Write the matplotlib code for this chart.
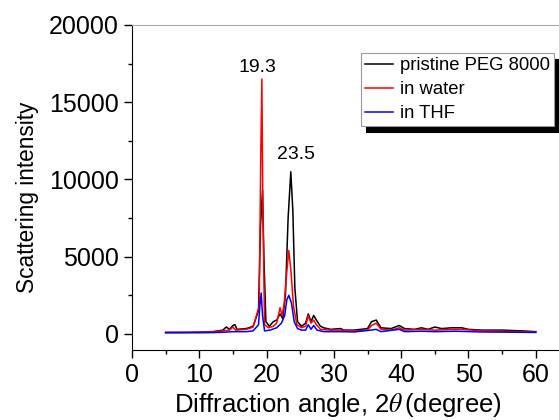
import matplotlib
matplotlib.use("Agg")
import matplotlib.pyplot as plt
from matplotlib.ticker import MultipleLocator

plt.rcParams['font.family'] = ['Liberation Sans', 'DejaVu Sans']
plt.rcParams['mathtext.fontset'] = 'stix'

# pristine PEG 8000 (black)
x_peg = [5, 8, 10, 12, 13.5, 14, 14.5, 15, 15.3, 15.6, 17, 18, 18.8, 19.1, 19.4, 19.6, 19.9, 20.4,
         21, 21.5, 22, 22.4, 22.8, 23.2, 23.6, 23.9, 24.2, 24.6, 25.2, 25.8, 26.2, 26.6, 27.0, 27.4,
         28.0, 28.5, 29.5, 31, 31.5, 33, 35, 35.6, 36.3, 37, 38.5, 39.7, 40.5, 42, 43, 44, 45, 46,
         47.5, 49, 50, 52, 55, 58, 60]
y_peg = [100, 100, 120, 150, 250, 450, 300, 550, 600, 300, 350, 500, 1500, 7000, 9300, 5000, 800, 500,
         800, 900, 1300, 1000, 2500, 7500, 10500, 8000, 3000, 800, 500, 700, 1300, 800, 1200, 900,
         500, 400, 300, 350, 250, 250, 350, 800, 900, 400, 350, 550, 350, 300, 400, 300, 450, 350,
         400, 400, 300, 250, 250, 200, 150]

# in water (red)
x_water = [5, 8, 10, 12, 13.5, 14.5, 15, 15.4, 17, 18, 18.9, 19.15, 19.3, 19.45, 19.7, 20.3,
           21, 21.5, 22.0, 22.3, 22.6, 23.0, 23.3, 23.6, 24.0, 24.5, 25.2, 25.8, 26.2, 26.6, 27.0, 27.4,
           28.0, 29.5, 31, 33, 35, 35.6, 36.3, 37, 38.5, 39.7, 40.5, 43, 45, 47.5, 49, 52, 55, 60]
y_water = [100, 100, 110, 140, 200, 250, 450, 250, 300, 450, 1800, 12000, 16500, 8000, 600, 400,
           500, 700, 1700, 1200, 1900, 4000, 5400, 4200, 1800, 600, 400, 500, 1200, 700, 900, 600,
           300, 250, 250, 200, 250, 550, 700, 300, 250, 400, 250, 300, 250, 300, 300, 200, 180, 120]

# in THF (blue)
x_thf = [5, 8, 10, 12, 14, 15, 17, 18, 18.8, 19.0, 19.2, 19.4, 19.7, 20.5, 21.5, 22.2, 22.7, 23.0,
         23.3, 23.7, 24.1, 24.6, 25.2, 25.8, 26.2, 26.6, 27.0, 27.5, 28.5, 31, 33, 35.5, 36.3, 37,
         39.7, 40.5, 43, 45, 48, 52, 55, 60]
y_thf = [80, 90, 80, 90, 120, 150, 150, 200, 600, 1800, 2650, 1200, 200, 250, 400, 700, 1200, 2200,
         2500, 2000, 800, 350, 250, 250, 600, 300, 550, 250, 150, 150, 130, 250, 300, 150,
         300, 150, 180, 150, 180, 130, 120, 100]

fig = plt.figure(figsize=(5.59, 4.2), dpi=100)
ax = fig.add_axes([0.2361, 0.1667, 0.7705, 0.7738])

ax.plot(x_peg, y_peg, color='black', lw=1.1, label='pristine PEG 8000')
ax.plot(x_water, y_water, color='red', lw=1.1, label='in water')
ax.plot(x_thf, y_thf, color='blue', lw=1.1, label='in THF')

ax.set_xlim(0, 64)
ax.set_ylim(-1036, 20000)
ax.xaxis.set_major_locator(MultipleLocator(10))
ax.xaxis.set_minor_locator(MultipleLocator(5))
ax.yaxis.set_major_locator(MultipleLocator(5000))
ax.yaxis.set_minor_locator(MultipleLocator(2500))
ax.tick_params(which='major', direction='out', length=5.5, width=1, labelsize=18, pad=4)
ax.tick_params(which='minor', direction='out', length=3, width=1)

ax.spines['top'].set_color('#aaaaaa')
ax.spines['top'].set_linewidth(0.8)

ax.set_xlabel(r'Diffraction angle, 2$\theta\,$(degree)', fontsize=18.5, va='center')
ax.xaxis.set_label_coords(0.478, -0.169)
ax.set_ylabel('Scattering intensity', fontsize=16.3, va='center')
ax.yaxis.set_label_coords(-0.2415, 0.47)

ax.text(18.7, 17280, '19.3', ha='center', va='center', fontsize=14)
ax.text(24.3, 11585, '23.5', ha='center', va='center', fontsize=14)

leg = ax.legend(loc='upper left', bbox_to_anchor=(0.5317, 0.914), borderaxespad=0,
                fontsize=13.3, frameon=True, fancybox=False, handlelength=1.5,
                handletextpad=0.38, borderpad=0.22, labelspacing=0.38,
                shadow={'color': 'black', 'alpha': 1, 'ox': 3.6, 'oy': -4.3})
leg.get_frame().set_edgecolor('#999999')
leg.get_frame().set_linewidth(0.8)

fig.savefig('out.png', dpi=100)
